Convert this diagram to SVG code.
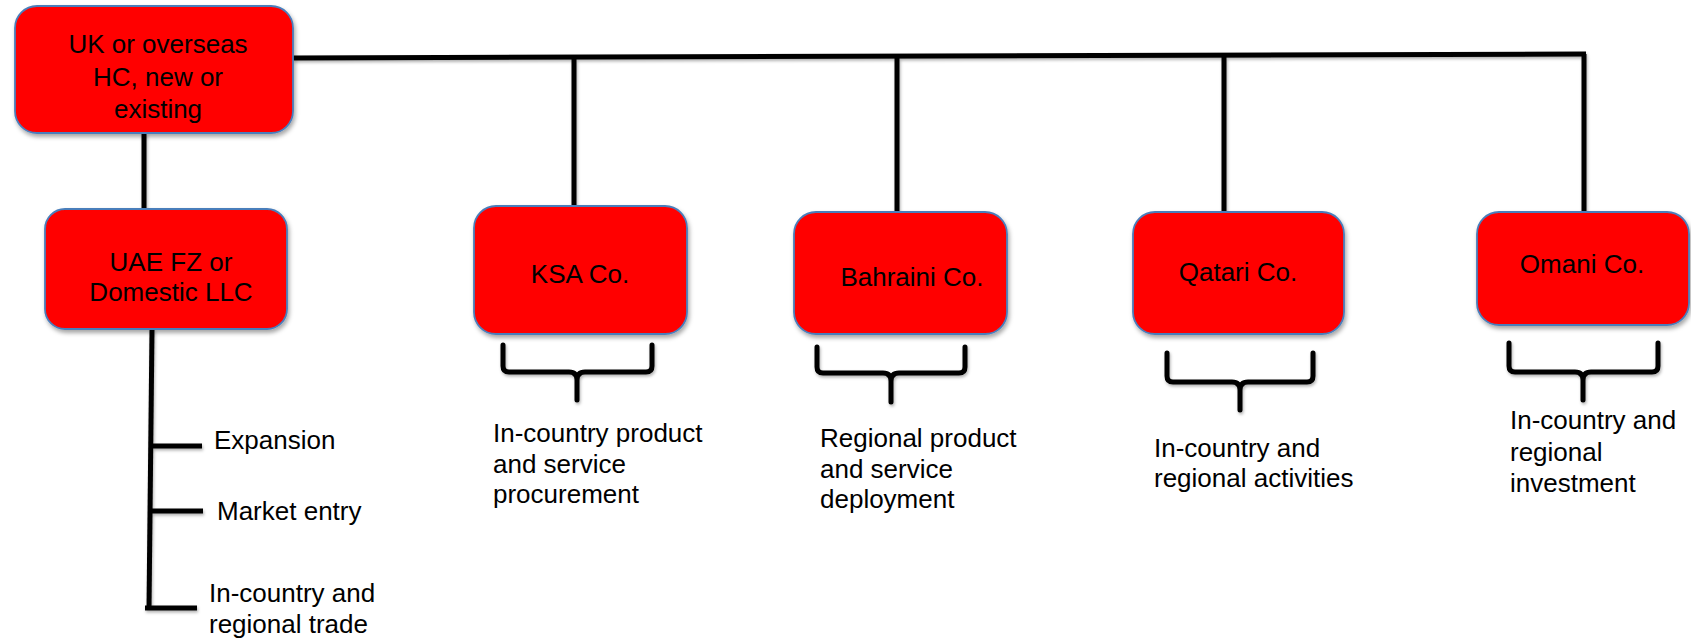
<svg xmlns="http://www.w3.org/2000/svg" width="1691" height="644" viewBox="0 0 1691 644">
<defs>
<filter id="sh" x="-10%" y="-10%" width="130%" height="140%">
<feDropShadow dx="1.5" dy="3" stdDeviation="2" flood-color="#000" flood-opacity="0.35"/>
</filter>
<filter id="lsh" x="-10%" y="-10%" width="130%" height="140%">
<feDropShadow dx="1" dy="2" stdDeviation="1.5" flood-color="#000" flood-opacity="0.3"/>
</filter>
</defs>
<style>
.box{fill:#ff0000;stroke:#4a7ebb;stroke-width:1.8}
.t{font-family:"Liberation Sans",Arial,sans-serif;font-size:26px;fill:#000}
.m{text-anchor:middle}
.ln{stroke:#000;stroke-width:5;fill:none;stroke-linecap:butt}
.br{stroke:#000;stroke-width:5;fill:none;stroke-linecap:round;stroke-linejoin:round}
</style>
<g id="connectors" filter="url(#lsh)">
<path class="ln" d="M293,58 L1586,54"/>
<path class="ln" d="M1584,54 V212"/>
<path class="ln" d="M574,57 V207"/>
<path class="ln" d="M897,56 V212"/>
<path class="ln" d="M1224,55 V212"/>
<path class="ln" d="M144,133 V209"/>
<path class="ln" d="M152,329 L149,608"/>
<path class="ln" d="M150,446 H202"/>
<path class="ln" d="M150,511 H203"/>
<path class="ln" d="M145,608 H197"/>
<path class="br" d="M503,345 V366 Q503,372 509,372 H569 Q577,372 577,380 V400 M652,345 V366 Q652,372 646,372 H585 Q577,372 577,380"/>
<path class="br" d="M817,347 V367 Q817,373 823,373 H883 Q891,373 891,381 V402 M965,347 V367 Q965,373 959,373 H899 Q891,373 891,381"/>
<path class="br" d="M1167,353 V376 Q1167,382 1173,382 H1232 Q1240,382 1240,390 V410 M1313,353 V376 Q1313,382 1307,382 H1248 Q1240,382 1240,390"/>
<path class="br" d="M1509,343 V366 Q1509,372 1515,372 H1575 Q1583,372 1583,380 V400 M1658,343 V366 Q1658,372 1652,372 H1591 Q1583,372 1583,380"/>
</g>
<g id="hc">
<rect class="box" filter="url(#sh)" x="15" y="6" width="278" height="127" rx="22"/>
<text class="t m" x="158" y="53">UK or overseas</text>
<text class="t m" x="158" y="86">HC, new or</text>
<text class="t m" x="158" y="118">existing</text>
</g>
<g id="uae">
<rect class="box" filter="url(#sh)" x="45" y="209" width="242" height="120" rx="20"/>
<text class="t m" x="171" y="271">UAE FZ or</text>
<text class="t m" x="171" y="301">Domestic LLC</text>
</g>
<g id="uae-items">
<text class="t" x="214" y="449">Expansion</text>
<text class="t" x="217" y="520">Market entry</text>
<text class="t" x="209" y="602">In-country and</text>
<text class="t" x="209" y="633">regional trade</text>
</g>
<g id="ksa">
<rect class="box" filter="url(#sh)" x="474" y="206" width="213" height="128" rx="22"/>
<text class="t m" x="580" y="283">KSA Co.</text>
<text class="t" x="493" y="442">In-country product</text>
<text class="t" x="493" y="473">and service</text>
<text class="t" x="493" y="503">procurement</text>
</g>
<g id="bahrain">
<rect class="box" filter="url(#sh)" x="794" y="212" width="213" height="122" rx="22"/>
<text class="t m" x="912" y="286">Bahraini Co.</text>
<text class="t" x="820" y="447">Regional product</text>
<text class="t" x="820" y="478">and service</text>
<text class="t" x="820" y="508">deployment</text>
</g>
<g id="qatar">
<rect class="box" filter="url(#sh)" x="1133" y="212" width="211" height="122" rx="22"/>
<text class="t m" x="1238" y="281">Qatari Co.</text>
<text class="t" x="1154" y="457">In-country and</text>
<text class="t" x="1154" y="487">regional activities</text>
</g>
<g id="oman">
<rect class="box" filter="url(#sh)" x="1477" y="212" width="212" height="113" rx="22"/>
<text class="t m" x="1582" y="273">Omani Co.</text>
<text class="t" x="1510" y="429">In-country and</text>
<text class="t" x="1510" y="461">regional</text>
<text class="t" x="1510" y="492">investment</text>
</g>
</svg>
